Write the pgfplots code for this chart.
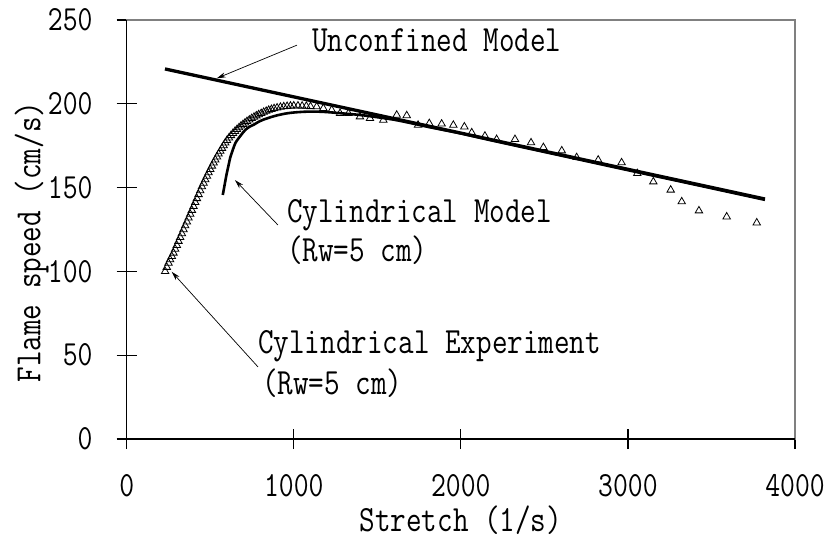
\documentclass[border=0pt]{standalone}
\usepackage{fontspec}
\setmainfont{Latin Modern Mono}[FakeStretch=0.818]
\usepackage{pgfplots}
\pgfplotsset{compat=1.18}
\usetikzlibrary{arrows.meta}
\newcommand{\bigf}{\fontsize{37}{42}\selectfont}
\begin{document}
\begin{tikzpicture}
\begin{axis}[
 at={(0,0)}, anchor=south west,
 scale only axis, width=668.3pt, height=419pt,
 xmin=0, xmax=4000, ymin=0, ymax=250,
 xtick={0,1000,2000,3000,4000}, ytick={0,50,100,150,200,250},
 xtick pos=bottom, ytick pos=left,
 tick align=center, major tick length=20pt,
 tick style={black, line width=1.2pt},
 axis line style={draw=gray, line width=1.2pt},
 /pgf/number format/assume math mode=true,
 /pgf/number format/1000 sep={},
 tick label style={font=\fontsize{35.3}{40}\selectfont, inner sep=0pt},
 xticklabel style={anchor=center, yshift=-37pt},
 yticklabel style={anchor=east, xshift=-24pt},
 label style={font=\bigf},
 xlabel={Stretch (1/s)}, ylabel={Flame speed (cm/s)},
 xlabel style={at={(axis description cs:0.5,-0.1933)}, anchor=center},
 ylabel style={at={(axis description cs:-0.1422,0.47)}, anchor=center},
 clip=false,
]
\addplot[only marks, mark=triangle, mark size=4.3pt, mark options={black, line width=0.8pt}] coordinates {
(230,100) (240,102.5) (250,105) (260,107) (270,109) (280,111) (290,113.3) (300,115.6) (310,118) (320,120.3)
(330,122.6) (340,125) (350,127.3) (360,129.6) (370,131.9) (380,134.2) (390,136.5) (400,138.8) (410,141.2) (420,143.5)
(430,145.9) (440,148.2) (450,150.6) (460,152.7) (470,154.8) (480,156.9) (490,158.9) (500,160.9) (510,162.9) (520,164.8)
(530,166.6) (540,168.4) (550,170.1) (560,171.8) (570,173.5) (580,175.1) (590,176.7) (600,178.2) (612,179.7) (624,181.1)
(636,182.4) (648,183.6) (660,184.7) (672,185.8) (684,186.8) (696,187.7) (708,188.6) (720,189.5) (734,190.4) (748,191.3)
(762,192.1) (776,192.9) (790,193.6) (805,194.3) (820,195) (835,195.6) (850,196.2) (866,196.7) (882,197.2) (900,197.6)
(920,198) (940,198.3) (960,198.5) (980,198.7) (1000,198.8) (1025,198.8) (1050,198.7) (1075,198.6) (1100,198.4) (1137,198.3)
(1177,197.3) (1227,196.3) (1277,194.3) (1327,194.3) (1396,192.3) (1456,191.3) (1536,190.3) (1616,193.3) (1676,193) (1744,187.3)
(1811,188.3) (1885,188) (1955,187.3) (2021,186.3) (2065,182.8) (2144,180.8) (2214,178.8) (2324,178.8) (2420,176.8) (2494,174)
(2604,172) (2693,168) (2822,166.5) (2962,164.9) (3056,158.5) (3152,153.5) (3256,148.6) (3322,141.6) (3425,136.2) (3591,132.6)
(3771,129)
};
\addplot[black, line width=3.3pt, no marks] coordinates {(229,220.8) (3820,143.2)};
\addplot[black, line width=2.6pt, no marks, smooth] coordinates {
(575,145.6) (585,151) (597,157.5) (610,163.5) (620,168) (635,172.5) (650,176.5) (665,178.8) (680,180.8) (700,183.3)
(720,185.3) (740,186.6) (760,187.5) (790,189.3) (820,190.6) (858,191.9) (900,193.1) (958,194.3) (1010,194.9) (1077,195.3)
(1150,195.3) (1220,194.9) (1300,194.2) (1400,193.3) (1500,192) (1600,190.5) (1700,188.5) (1800,186.3) (1900,184.3) (2000,182.3)
(2200,177.8) (2600,169.1) (3000,160.4) (3400,151.8) (3820,142.7)
};
\draw[black, line width=1.2pt] (rel axis cs:0,1) -- (rel axis cs:0,0) -- (rel axis cs:1,0);
\draw[-{Stealth[length=9pt,width=5pt]}, line width=0.7pt] (axis cs:1019,235) -- (axis cs:539,215.2);
\draw[-{Stealth[length=9pt,width=5pt]}, line width=0.7pt] (axis cs:905,127.7) -- (axis cs:648,154.5);
\draw[-{Stealth[length=9pt,width=5pt]}, line width=0.7pt] (axis cs:786,43) -- (axis cs:269,99.8);
\node[anchor=west, inner sep=0pt, font=\bigf] at (axis cs:1109,238) {Unconfined Model};
\node[anchor=west, inner sep=0pt, font=\bigf] at (axis cs:959,133.6) {Cylindrical Model};
\node[anchor=west, inner sep=0pt, font=\bigf] at (axis cs:959,112.8) {(Rw=5 cm)};
\node[anchor=west, inner sep=0pt, font=\bigf] at (axis cs:786,55.5) {Cylindrical Experiment};
\node[anchor=west, inner sep=0pt, font=\bigf] at (axis cs:810,33.4) {(Rw=5 cm)};
\end{axis}
\pgfresetboundingbox
\path[use as bounding box] (-126.7pt,-100pt) rectangle (699.3pt,439pt);
\end{tikzpicture}
\end{document}
